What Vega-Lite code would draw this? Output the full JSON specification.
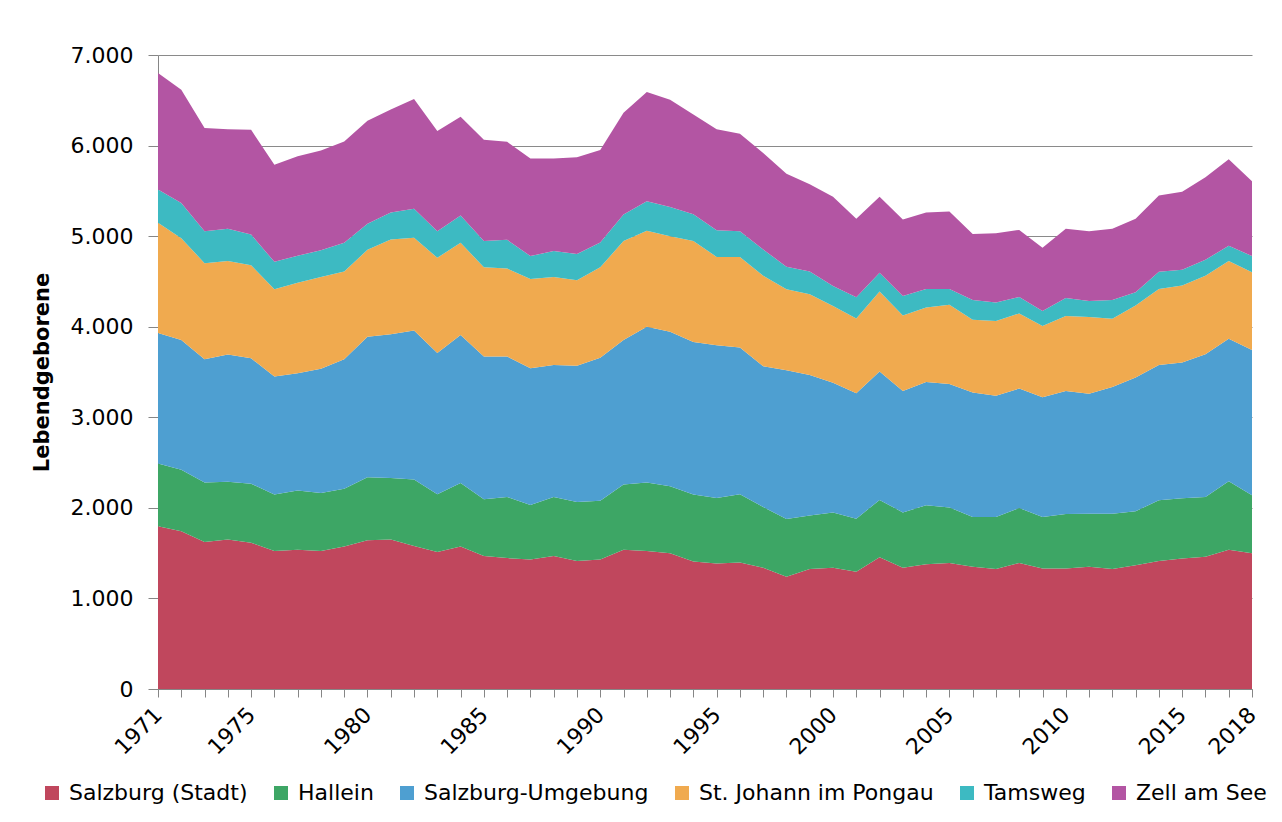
{
  "$schema": "https://vega.github.io/schema/vega-lite/v6.json",
  "autosize": {"type": "none"},
  "width": 1094,
  "height": 634,
  "padding": {"left": 158, "top": 55, "right": 30, "bottom": 133},
  "background": "white",
  "config": {
    "locale": {"number": {"decimal": ",", "thousands": ".", "grouping": [3], "currency": ["", " €"]}},
    "view": {"stroke": null},
    "font": "DejaVu Sans"
  },
  "datasets": {
    "bezirke": [
      {"key": "stadt", "Bezirk": "Salzburg (Stadt)", "rang": 1},
      {"key": "hallein", "Bezirk": "Hallein", "rang": 2},
      {"key": "umgebung", "Bezirk": "Salzburg-Umgebung", "rang": 3},
      {"key": "johann", "Bezirk": "St. Johann im Pongau", "rang": 4},
      {"key": "tamsweg", "Bezirk": "Tamsweg", "rang": 5},
      {"key": "zell", "Bezirk": "Zell am See", "rang": 6}
    ]
  },
  "data": {
    "values": [
      {"Jahr": 1971, "stadt": 1798, "hallein": 693, "umgebung": 1440, "johann": 1216, "tamsweg": 367, "zell": 1286},
      {"Jahr": 1972, "stadt": 1743, "hallein": 679, "umgebung": 1431, "johann": 1124, "tamsweg": 390, "zell": 1248},
      {"Jahr": 1973, "stadt": 1624, "hallein": 656, "umgebung": 1362, "johann": 1060, "tamsweg": 353, "zell": 1138},
      {"Jahr": 1974, "stadt": 1651, "hallein": 638, "umgebung": 1404, "johann": 1032, "tamsweg": 358, "zell": 1096},
      {"Jahr": 1975, "stadt": 1615, "hallein": 651, "umgebung": 1385, "johann": 1028, "tamsweg": 339, "zell": 1156},
      {"Jahr": 1976, "stadt": 1523, "hallein": 624, "umgebung": 1303, "johann": 963, "tamsweg": 303, "zell": 1073},
      {"Jahr": 1977, "stadt": 1537, "hallein": 656, "umgebung": 1293, "johann": 1000, "tamsweg": 298, "zell": 1097},
      {"Jahr": 1978, "stadt": 1523, "hallein": 642, "umgebung": 1372, "johann": 1013, "tamsweg": 294, "zell": 1101},
      {"Jahr": 1979, "stadt": 1573, "hallein": 638, "umgebung": 1431, "johann": 968, "tamsweg": 317, "zell": 1119},
      {"Jahr": 1980, "stadt": 1642, "hallein": 697, "umgebung": 1551, "johann": 959, "tamsweg": 289, "zell": 1137},
      {"Jahr": 1981, "stadt": 1651, "hallein": 679, "umgebung": 1587, "johann": 1046, "tamsweg": 298, "zell": 1138},
      {"Jahr": 1982, "stadt": 1578, "hallein": 734, "umgebung": 1647, "johann": 1023, "tamsweg": 321, "zell": 1211},
      {"Jahr": 1983, "stadt": 1514, "hallein": 637, "umgebung": 1560, "johann": 1050, "tamsweg": 294, "zell": 1106},
      {"Jahr": 1984, "stadt": 1573, "hallein": 702, "umgebung": 1633, "johann": 1019, "tamsweg": 302, "zell": 1088},
      {"Jahr": 1985, "stadt": 1468, "hallein": 628, "umgebung": 1574, "johann": 986, "tamsweg": 289, "zell": 1119},
      {"Jahr": 1986, "stadt": 1445, "hallein": 674, "umgebung": 1551, "johann": 972, "tamsweg": 317, "zell": 1082},
      {"Jahr": 1987, "stadt": 1431, "hallein": 601, "umgebung": 1509, "johann": 987, "tamsweg": 252, "zell": 1078},
      {"Jahr": 1988, "stadt": 1468, "hallein": 651, "umgebung": 1459, "johann": 972, "tamsweg": 285, "zell": 1023},
      {"Jahr": 1989, "stadt": 1413, "hallein": 651, "umgebung": 1505, "johann": 945, "tamsweg": 289, "zell": 1069},
      {"Jahr": 1990, "stadt": 1431, "hallein": 647, "umgebung": 1578, "johann": 1000, "tamsweg": 275, "zell": 1019},
      {"Jahr": 1991, "stadt": 1537, "hallein": 720, "umgebung": 1596, "johann": 1092, "tamsweg": 294, "zell": 1123},
      {"Jahr": 1992, "stadt": 1523, "hallein": 757, "umgebung": 1720, "johann": 1060, "tamsweg": 325, "zell": 1207},
      {"Jahr": 1993, "stadt": 1500, "hallein": 739, "umgebung": 1706, "johann": 1055, "tamsweg": 321, "zell": 1184},
      {"Jahr": 1994, "stadt": 1408, "hallein": 739, "umgebung": 1683, "johann": 1115, "tamsweg": 298, "zell": 1101},
      {"Jahr": 1995, "stadt": 1385, "hallein": 725, "umgebung": 1684, "johann": 977, "tamsweg": 293, "zell": 1115},
      {"Jahr": 1996, "stadt": 1397, "hallein": 753, "umgebung": 1621, "johann": 1000, "tamsweg": 284, "zell": 1075},
      {"Jahr": 1997, "stadt": 1339, "hallein": 670, "umgebung": 1555, "johann": 1000, "tamsweg": 289, "zell": 1064},
      {"Jahr": 1998, "stadt": 1239, "hallein": 637, "umgebung": 1642, "johann": 895, "tamsweg": 248, "zell": 1027},
      {"Jahr": 1999, "stadt": 1326, "hallein": 591, "umgebung": 1551, "johann": 890, "tamsweg": 252, "zell": 963},
      {"Jahr": 2000, "stadt": 1339, "hallein": 611, "umgebung": 1431, "johann": 848, "tamsweg": 221, "zell": 986},
      {"Jahr": 2001, "stadt": 1294, "hallein": 587, "umgebung": 1385, "johann": 826, "tamsweg": 234, "zell": 867},
      {"Jahr": 2002, "stadt": 1454, "hallein": 633, "umgebung": 1418, "johann": 885, "tamsweg": 206, "zell": 840},
      {"Jahr": 2003, "stadt": 1339, "hallein": 611, "umgebung": 1339, "johann": 835, "tamsweg": 215, "zell": 844},
      {"Jahr": 2004, "stadt": 1376, "hallein": 652, "umgebung": 1362, "johann": 821, "tamsweg": 206, "zell": 844},
      {"Jahr": 2005, "stadt": 1390, "hallein": 615, "umgebung": 1362, "johann": 876, "tamsweg": 174, "zell": 854},
      {"Jahr": 2006, "stadt": 1349, "hallein": 550, "umgebung": 1376, "johann": 803, "tamsweg": 216, "zell": 729},
      {"Jahr": 2007, "stadt": 1326, "hallein": 573, "umgebung": 1340, "johann": 825, "tamsweg": 202, "zell": 766},
      {"Jahr": 2008, "stadt": 1392, "hallein": 606, "umgebung": 1319, "johann": 830, "tamsweg": 181, "zell": 741},
      {"Jahr": 2009, "stadt": 1330, "hallein": 569, "umgebung": 1321, "johann": 789, "tamsweg": 165, "zell": 698},
      {"Jahr": 2010, "stadt": 1330, "hallein": 601, "umgebung": 1358, "johann": 830, "tamsweg": 198, "zell": 766},
      {"Jahr": 2011, "stadt": 1349, "hallein": 587, "umgebung": 1325, "johann": 845, "tamsweg": 178, "zell": 771},
      {"Jahr": 2012, "stadt": 1326, "hallein": 610, "umgebung": 1399, "johann": 752, "tamsweg": 207, "zell": 789},
      {"Jahr": 2013, "stadt": 1367, "hallein": 596, "umgebung": 1477, "johann": 794, "tamsweg": 147, "zell": 812},
      {"Jahr": 2014, "stadt": 1413, "hallein": 670, "umgebung": 1495, "johann": 839, "tamsweg": 189, "zell": 844},
      {"Jahr": 2015, "stadt": 1440, "hallein": 666, "umgebung": 1500, "johann": 848, "tamsweg": 174, "zell": 863},
      {"Jahr": 2016, "stadt": 1459, "hallein": 660, "umgebung": 1578, "johann": 867, "tamsweg": 175, "zell": 912},
      {"Jahr": 2017, "stadt": 1537, "hallein": 757, "umgebung": 1573, "johann": 858, "tamsweg": 169, "zell": 955},
      {"Jahr": 2018, "stadt": 1500, "hallein": 638, "umgebung": 1605, "johann": 858, "tamsweg": 179, "zell": 826}
    ]
  },
  "transform": [
    {"fold": ["stadt", "hallein", "umgebung", "johann", "tamsweg", "zell"], "as": ["key", "Lebendgeborene"]},
    {"lookup": "key", "from": {"data": {"name": "bezirke"}, "key": "key", "fields": ["Bezirk", "rang"]}}
  ],
  "mark": {"type": "area", "opacity": 1},
  "encoding": {
    "x": {
      "field": "Jahr",
      "type": "quantitative",
      "scale": {"domain": [1971, 2018], "nice": false, "zero": false},
      "axis": {
        "title": null,
        "values": [1971,1972,1973,1974,1975,1976,1977,1978,1979,1980,1981,1982,1983,1984,1985,1986,1987,1988,1989,1990,1991,1992,1993,1994,1995,1996,1997,1998,1999,2000,2001,2002,2003,2004,2005,2006,2007,2008,2009,2010,2011,2012,2013,2014,2015,2016,2017,2018],
        "labelExpr": "indexof([1971,1975,1980,1985,1990,1995,2000,2005,2010,2015,2018], datum.value) >= 0 ? datum.label : ''",
        "format": "d",
        "labelOverlap": false,
        "labelAngle": -45,
        "labelAlign": "right",
        "labelBaseline": "middle",
        "labelPadding": 14,
        "labelFontSize": 22,
        "labelColor": "#000000",
        "labelFont": "DejaVu Sans",
        "tickSize": 8,
        "tickColor": "#868686",
        "domainColor": "#868686",
        "grid": false,
        "labelFlush": false
      }
    },
    "y": {
      "field": "Lebendgeborene",
      "type": "quantitative",
      "stack": "zero",
      "scale": {"domain": [0, 7000], "nice": false},
      "axis": {
        "title": "Lebendgeborene",
        "titleFontSize": 21,
        "titleFontWeight": "bold",
        "titleColor": "#000000",
        "titleFont": "DejaVu Sans",
        "titlePadding": 18,
        "values": [0, 1000, 2000, 3000, 4000, 5000, 6000, 7000],
        "format": ",d",
        "labelFontSize": 22,
        "labelColor": "#000000",
        "labelFont": "DejaVu Sans",
        "labelPadding": 15,
        "tickSize": 10,
        "tickColor": "#868686",
        "domainColor": "#868686",
        "grid": true,
        "gridColor": "#8a8a8a",
        "gridWidth": 1
      }
    },
    "color": {
      "field": "Bezirk",
      "type": "nominal",
      "scale": {
        "domain": ["Salzburg (Stadt)", "Hallein", "Salzburg-Umgebung", "St. Johann im Pongau", "Tamsweg", "Zell am See"],
        "range": ["#C0475D", "#3DA665", "#4E9FD1", "#F0AA4F", "#3DBAC2", "#B355A3"]
      },
      "legend": {
        "title": null,
        "orient": "none",
        "legendX": -117,
        "legendY": 727,
        "direction": "horizontal",
        "symbolType": "square",
        "symbolSize": 196,
        "symbolStrokeWidth": 0,
        "labelFontSize": 22,
        "labelFont": "DejaVu Sans",
        "labelColor": "#000000",
        "labelOffset": 6,
        "columnPadding": 22,
        "labelLimit": 400
      }
    },
    "order": {"field": "rang", "type": "quantitative", "sort": "ascending"}
  }
}
